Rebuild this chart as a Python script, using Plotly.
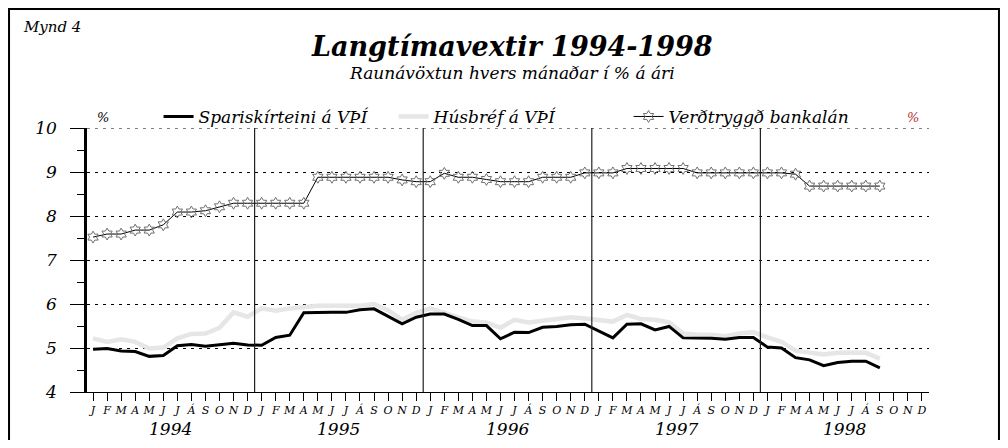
import plotly.graph_objects as go

# ---------------- data ----------------
years = ["1994", "1995", "1996", "1997", "1998"]
month_letters = ["J", "F", "M", "A", "M", "J", "J", "Á", "S", "O", "N", "D"]

spariskirteini = [
    4.97, 4.99, 4.93, 4.92, 4.81, 4.83, 5.05, 5.08, 5.04, 5.07, 5.11, 5.07,
    5.06, 5.24, 5.29, 5.80, 5.81, 5.81, 5.81, 5.87, 5.89, 5.72, 5.55, 5.70,
    5.77, 5.77, 5.65, 5.51, 5.51, 5.21, 5.36, 5.35, 5.47, 5.49, 5.53, 5.54,
    5.39, 5.23, 5.54, 5.55, 5.41, 5.49, 5.23, 5.23, 5.22, 5.20, 5.24, 5.24,
    5.02, 5.00, 4.78, 4.73, 4.60, 4.67, 4.70, 4.70, 4.55,
]
husbref = [
    5.22, 5.14, 5.20, 5.14, 4.99, 5.01, 5.22, 5.32, 5.33, 5.46, 5.81, 5.71,
    5.90, 5.85, 5.90, 5.94, 5.96, 5.96, 5.96, 5.96, 6.00, 5.86, 5.64, 5.80,
    5.90, 5.80, 5.70, 5.60, 5.58, 5.46, 5.64, 5.58, 5.62, 5.67, 5.70, 5.67,
    5.64, 5.60, 5.75, 5.66, 5.64, 5.58, 5.33, 5.30, 5.30, 5.27, 5.33, 5.36,
    5.24, 5.14, 4.94, 4.89, 4.85, 4.89, 4.89, 4.89, 4.76,
]
bankalan = [
    7.52, 7.59, 7.59, 7.68, 7.68, 7.80, 8.09, 8.09, 8.12, 8.21, 8.29, 8.29,
    8.29, 8.29, 8.29, 8.29, 8.88, 8.88, 8.88, 8.88, 8.88, 8.88, 8.82, 8.78,
    8.78, 8.97, 8.88, 8.88, 8.83, 8.78, 8.78, 8.78, 8.88, 8.88, 8.88, 8.98,
    8.98, 8.98, 9.08, 9.08, 9.08, 9.08, 9.08, 8.98, 8.98, 8.98, 8.98, 8.98,
    8.98, 8.98, 8.95, 8.68, 8.68, 8.68, 8.68, 8.68, 8.68,
]

series_names = ["Spariskírteini á VÞÍ", "Húsbréf á VÞÍ", "Verðtryggð bankalán"]
title_text = "Langtímavextir 1994-1998"
subtitle_text = "Raunávöxtun hvers mánaðar í % á ári"

n_months = len(years) * 12
month_idx = list(range(n_months))
tick_text = month_letters * len(years)

SERIF = "DejaVu Serif"

fig = go.Figure()
fig.add_trace(go.Scatter(
    x=month_idx[:len(husbref)], y=husbref, name=series_names[1],
    mode="lines", line=dict(color="#e6e6e6", width=4.5),
    legendrank=2,
))
fig.add_trace(go.Scatter(
    x=month_idx[:len(spariskirteini)], y=spariskirteini, name=series_names[0],
    mode="lines", line=dict(color="#000000", width=3),
    legendrank=1,
))
fig.add_trace(go.Scatter(
    x=month_idx[:len(bankalan)], y=bankalan, name=series_names[2],
    mode="lines+markers", line=dict(color="#000000", width=1),
    marker=dict(symbol="hexagram-open", size=9, color="#707070",
                line=dict(width=1, color="#707070")),
    legendrank=3,
))

yaxis_common = dict(
    range=[4, 10], dtick=1, tick0=4,
    ticks="outside", ticklen=14, tickwidth=1, tickcolor="black",
    showline=True, linewidth=2.5, linecolor="black",
    tickfont=dict(family=SERIF, size=17, color="black", style="italic"),
    ticklabelstandoff=10,
    minor=dict(ticks="outside", ticklen=7, dtick=0.5, tickcolor="black", tickwidth=1, showgrid=False),
    zeroline=False, fixedrange=True,
)

# The page body has an 8px margin: the figure is sized to fit inside the
# window (992x432) and its margins set so the plot area sits at 87..929 x 128..392.
fig.update_layout(
    width=992, height=432,
    margin=dict(l=79, r=71, t=120, b=48, pad=0),
    paper_bgcolor="white", plot_bgcolor="white",
    showlegend=True,
    legend=dict(
        orientation="h", x=0.085, xanchor="left", y=1.042, yanchor="middle",
        font=dict(family=SERIF, size=17, color="black", style="italic"),
        bgcolor="rgba(0,0,0,0)", itemwidth=30, traceorder="normal",
        entrywidth=190, entrywidthmode="pixels",
    ),
    xaxis=dict(
        range=[-0.43, 59.5], tickmode="array", tickvals=month_idx, ticktext=tick_text,
        ticks="outside", ticklen=8, tickwidth=1, tickcolor="black",
        showline=True, linewidth=1, linecolor="black", showgrid=False, zeroline=False,
        tickangle=0,
        tickfont=dict(family=SERIF, size=11, color="black", style="italic"),
        fixedrange=True,
    ),
    yaxis=dict(
        **yaxis_common,
        showgrid=True, gridcolor="black", gridwidth=1, griddash="3px,5px",
    ),
    yaxis2=dict(
        **yaxis_common, overlaying="y", side="right", showgrid=False,
    ),
)

# dotted line at the top of the plot (gridline at 10)
fig.add_hline(y=10, line=dict(color="black", width=1, dash="3px,5px"), layer="above")

# year separators
for k in range(1, len(years)):
    fig.add_vline(x=12 * k - 0.5, line=dict(color="#222222", width=1.2), layer="above")

# year labels under the months
for k, yr in enumerate(years):
    fig.add_annotation(
        x=12 * k + 5.5, xref="x", y=-0.142, yref="paper", yanchor="middle",
        text=yr, showarrow=False,
        font=dict(family=SERIF, size=17, color="black", style="italic"),
    )

# titles and texts
fig.add_annotation(
    x=0.505, xref="paper", y=1.308, yref="paper", yanchor="middle",
    text=title_text, showarrow=False,
    font=dict(family=SERIF, size=27, color="black", style="italic", weight="bold"),
)
fig.add_annotation(
    x=0.505, xref="paper", y=1.208, yref="paper", yanchor="middle",
    text=subtitle_text, showarrow=False,
    font=dict(family=SERIF, size=17, color="black", style="italic"),
)
fig.add_annotation(
    x=-0.078, xref="paper", xanchor="left", y=1.383, yref="paper", yanchor="middle",
    text="Mynd 4", showarrow=False,
    font=dict(family=SERIF, size=15, color="black", style="italic"),
)
fig.add_annotation(
    x=0.0095, xref="paper", y=1.038, yref="paper", yanchor="middle",
    text="%", showarrow=False,
    font=dict(family=SERIF, size=13, color="black", style="italic"),
)
fig.add_annotation(
    x=0.9905, xref="paper", y=1.038, yref="paper", yanchor="middle",
    text="%", showarrow=False,
    font=dict(family=SERIF, size=13, color="#b03030", style="italic"),
)

# outer frame (bottom edge falls below the visible page)
fig.add_shape(
    type="rect", xref="paper", yref="paper",
    x0=-0.0926, x1=1.0831, y0=-0.2045, y1=1.4508,
    line=dict(color="black", width=2), fillcolor="rgba(0,0,0,0)", layer="above",
)

fig.write_html("out.html")
